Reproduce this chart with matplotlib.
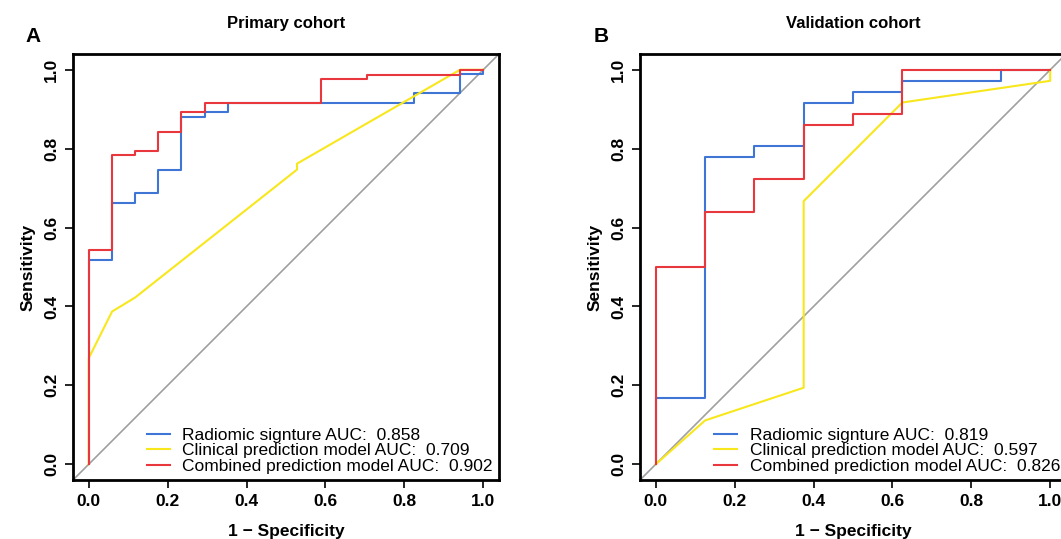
import matplotlib.pyplot as plt

plt.rcParams['font.family'] = ['Liberation Sans', 'DejaVu Sans']

# Primary cohort (A)
a_rad_x = [0, 0, 0.059, 0.059, 0.118, 0.118, 0.176, 0.176, 0.235, 0.235, 0.294, 0.294, 0.353, 0.353,
           0.824, 0.824, 0.941, 0.941, 1.0, 1.0]
a_rad_y = [0, 0.518, 0.518, 0.663, 0.663, 0.687, 0.687, 0.747, 0.747, 0.880, 0.880, 0.892, 0.892, 0.916,
           0.916, 0.940, 0.940, 0.990, 0.990, 1.0]
a_cli_x = [0, 0, 0.059, 0.118, 0.528, 0.528, 0.941, 1.0]
a_cli_y = [0, 0.269, 0.387, 0.423, 0.747, 0.762, 1.0, 1.0]
a_com_x = [0, 0, 0.059, 0.059, 0.118, 0.118, 0.176, 0.176, 0.235, 0.235, 0.294, 0.294, 0.588, 0.588,
           0.706, 0.706, 0.941, 0.941, 1.0]
a_com_y = [0, 0.542, 0.542, 0.783, 0.783, 0.795, 0.795, 0.843, 0.843, 0.892, 0.892, 0.916, 0.916, 0.976,
           0.976, 0.988, 0.988, 1.0, 1.0]

# Validation cohort (B)
b_rad_x = [0, 0, 0.125, 0.125, 0.25, 0.25, 0.375, 0.375, 0.5, 0.5, 0.625, 0.625, 0.875, 0.875, 1.0]
b_rad_y = [0, 0.167, 0.167, 0.778, 0.778, 0.806, 0.806, 0.917, 0.917, 0.944, 0.944, 0.972, 0.972, 1.0, 1.0]
b_cli_x = [0, 0.125, 0.375, 0.375, 0.625, 1.0, 1.0]
b_cli_y = [0, 0.111, 0.194, 0.667, 0.917, 0.972, 1.0]
b_com_x = [0, 0, 0.125, 0.125, 0.25, 0.25, 0.375, 0.375, 0.5, 0.5, 0.625, 0.625, 1.0]
b_com_y = [0, 0.5, 0.5, 0.639, 0.639, 0.722, 0.722, 0.861, 0.861, 0.889, 0.889, 1.0, 1.0]

a_auc = ["0.858", "0.709", "0.902"]
b_auc = ["0.819", "0.597", "0.826"]
names = ["Radiomic signture", "Clinical prediction model", "Combined prediction model"]
colors = ["#3F76D6", "#F8E71C", "#E8383D"]
ticks = [0.0, 0.2, 0.4, 0.6, 0.8, 1.0]

W, H = 1061, 539
fig = plt.figure(figsize=(W / 100, H / 100), dpi=100)
ax1 = fig.add_axes([73 / W, 59 / H, 426 / W, 426 / H])
ax2 = fig.add_axes([640 / W, 59 / H, 426 / W, 426 / H])


def draw(ax, curves, aucs, title, letter, lx):
    ax.plot([-0.04, 1.04], [-0.04, 1.04], color="#A0A0A0", lw=1.2)
    for (x, y), c, n, a in zip(curves, colors, names, aucs):
        ax.plot(x, y, color=c, lw=1.5, label=f"{n} AUC:  {a}")
    ax.set_xlim(-0.04, 1.04)
    ax.set_ylim(-0.04, 1.04)
    ax.set_xticks(ticks)
    ax.set_yticks(ticks)
    ax.set_xticklabels([f"{t:.1f}" for t in ticks], fontweight="bold", fontsize=12.5)
    ax.set_yticklabels([f"{t:.1f}" for t in ticks], fontweight="bold", fontsize=12.5,
                       rotation=90, va="center")
    ax.tick_params(length=6, width=1.2, pad=4)
    for s in ax.spines.values():
        s.set_linewidth(2)
    ax.set_xlabel("1 \u2212 Specificity", fontweight="bold", fontsize=12.5, labelpad=11)
    ax.set_ylabel("Sensitivity", fontweight="bold", fontsize=12.5, labelpad=6)
    ax.set_title(title, fontweight="bold", fontsize=12, pad=19)
    fig.text(lx / W, 1 - 37 / H, letter, fontweight="bold", fontsize=15, ha="center", va="center")
    ax.legend(loc="lower right", frameon=False, fontsize=12.5, handlelength=1.35, handletextpad=0.7,
              labelspacing=0.02, borderpad=0.25, borderaxespad=0.1, bbox_to_anchor=(1.0, 0.0))


draw(ax1, [(a_rad_x, a_rad_y), (a_cli_x, a_cli_y), (a_com_x, a_com_y)], a_auc,
     "Primary cohort", "A", 33)
draw(ax2, [(b_rad_x, b_rad_y), (b_cli_x, b_cli_y), (b_com_x, b_com_y)], b_auc,
     "Validation cohort", "B", 601)

fig.savefig("out.png", dpi=100)
